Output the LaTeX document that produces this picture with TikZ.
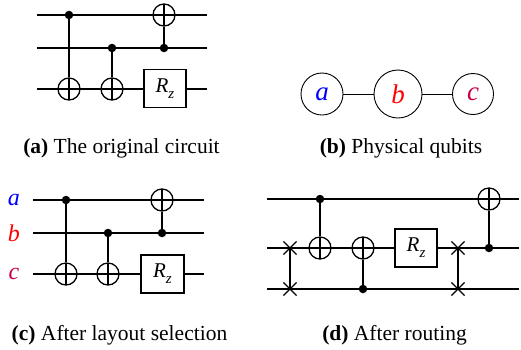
\documentclass[tikz,border=0pt]{standalone}
\usepackage{fontspec}
\setmainfont{Liberation Serif}
\usetikzlibrary{shapes.misc}
\definecolor{qa}{rgb}{0,0,1}
\definecolor{qb}{rgb}{1,0,0}
\definecolor{qc}{rgb}{0.78,0,0.3}
\tikzset{
  wire/.style={line width=1.3pt},
  ctrl/.style={circle, fill=black, inner sep=0pt, minimum size=8.5pt},
  targ/.style={circle, draw, line width=1.3pt, inner sep=0pt, minimum size=22pt,
    path picture={\draw[line width=1.3pt] (path picture bounding box.north) -- (path picture bounding box.south)
      (path picture bounding box.west) -- (path picture bounding box.east);}},
  gatebox/.style={draw, fill=white, line width=1.3pt, minimum width=42pt, minimum height=38pt, inner sep=0pt,
    font=\fontsize{21pt}{23pt}\selectfont},
  swapx/.style={draw, cross out, line width=1.2pt, minimum size=12pt, inner sep=0pt},
  qubit/.style={circle, draw, line width=0.9pt, inner sep=0pt, font=\fontsize{27pt}{29pt}\selectfont\itshape},
  qlabel/.style={inner sep=0pt, font=\fontsize{24pt}{26pt}\selectfont\itshape},
  caption/.style={anchor=base, inner sep=0pt, font=\fontsize{21.5pt}{24pt}\selectfont},
}
\newcommand{\Rz}{\textit{R}\raisebox{-0.28em}{\fontsize{15pt}{16pt}\selectfont\textit{z}}}
\begin{document}
\begin{tikzpicture}[x=1pt,y=-1pt]
\useasboundingbox (0,0) rectangle (521,349);
% ---------- (a)
\foreach \n/\y in {1/15,2/48,3/89} {
  \coordinate (aL\n) at (37,\y); \coordinate (aR\n) at (207,\y);
  \draw[wire] (aL\n) -- (aR\n);
}
\node[ctrl] (ac1) at (69,15) {};
\node[targ] (at1) at (69,89) {};
\draw[wire] (ac1) -- (at1);
\node[ctrl] (ac2) at (112,48) {};
\node[targ] (at2) at (112,89) {};
\draw[wire] (ac2) -- (at2);
\node[targ] (at3) at (164,15) {};
\node[ctrl] (ac3) at (164,48) {};
\draw[wire] (ac3) -- (at3);
\node[gatebox] (arz) at (165,88.5) {\Rz};
\node[caption] (capa) at (121.5,153) {\textbf{(a)} The original circuit};
% ---------- (b)
\node[qubit, minimum size=42pt, text=qa] (pa) at (322,94) {a};
\node[qubit, minimum size=48pt, text=qb] (pb) at (398,94) {b};
\node[qubit, minimum size=41pt, text=qc] (pc) at (473,94) {c};
\draw[line width=0.9pt] (pa) -- (pb);
\draw[line width=0.9pt] (pb) -- (pc);
\node[caption] (capb) at (401,153) {\textbf{(b)} Physical qubits};
% ---------- (c)
\foreach \n/\y in {1/200,2/233,3/274} {
  \coordinate (cL\n) at (33,\y); \coordinate (cR\n) at (204,\y);
  \draw[wire] (cL\n) -- (cR\n);
}
\node[qlabel, text=qa] (la) at (14,200) {a};
\node[qlabel, text=qb] (lb) at (14,233) {b};
\node[qlabel, text=qc] (lc) at (14,274) {c};
\node[ctrl] (cc1) at (66,200) {};
\node[targ] (ct1) at (66,274) {};
\draw[wire] (cc1) -- (ct1);
\node[ctrl] (cc2) at (108,233) {};
\node[targ] (ct2) at (108,274) {};
\draw[wire] (cc2) -- (ct2);
\node[targ] (ct3) at (162,200) {};
\node[ctrl] (cc3) at (162,233) {};
\draw[wire] (cc3) -- (ct3);
\node[gatebox, minimum width=43pt] (crz) at (162.5,274) {\Rz};
\node[caption] (capc) at (119.5,340) {\textbf{(c)} After layout selection};
% ---------- (d)
\foreach \n/\y in {1/199,2/248,3/289} {
  \coordinate (dL\n) at (267,\y); \coordinate (dR\n) at (519,\y);
  \draw[wire] (dL\n) -- (dR\n);
}
\node[swapx] (ds1a) at (290,248) {};
\node[swapx] (ds1b) at (290,289) {};
\draw[wire] (ds1a.center) -- (ds1b.center);
\node[ctrl] (dc1) at (320,199) {};
\node[targ] (dt1) at (320,248) {};
\draw[wire] (dc1) -- (dt1);
\node[targ] (dt2) at (363,248) {};
\node[ctrl] (dc2) at (363,289) {};
\draw[wire] (dc2) -- (dt2);
\node[gatebox] (drz) at (416,248) {\Rz};
\node[swapx] (ds2a) at (458,248) {};
\node[swapx] (ds2b) at (458,289) {};
\draw[wire] (ds2a.center) -- (ds2b.center);
\node[targ] (dt3) at (489,199) {};
\node[ctrl] (dc3) at (489,248) {};
\draw[wire] (dc3) -- (dt3);
\node[caption] (capd) at (394.5,340) {\textbf{(d)} After routing};
\end{tikzpicture}
\end{document}
